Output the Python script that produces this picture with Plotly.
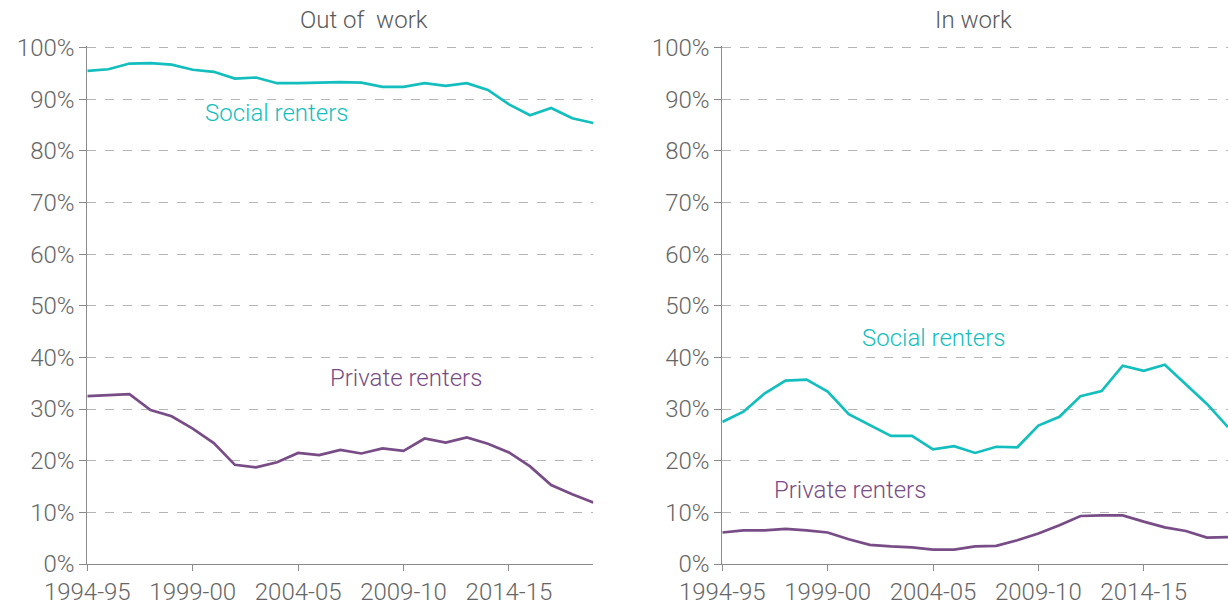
import plotly.graph_objects as go
from plotly.subplots import make_subplots

years = ["1994-95","1995-96","1996-97","1997-98","1998-99","1999-00","2000-01","2001-02",
         "2002-03","2003-04","2004-05","2005-06","2006-07","2007-08","2008-09","2009-10",
         "2010-11","2011-12","2012-13","2013-14","2014-15","2015-16","2016-17","2017-18","2018-19"]
tick_labels = ["1994-95", "1999-00", "2004-05", "2009-10", "2014-15"]

out_social = [95.5, 95.8, 96.9, 97.0, 96.7, 95.7, 95.3, 94.0, 94.2, 93.1, 93.1, 93.2, 93.3,
              93.2, 92.4, 92.4, 93.1, 92.6, 93.1, 91.8, 89.0, 86.9, 88.3, 86.3, 85.4]
out_private = [32.5, 32.7, 32.9, 29.8, 28.6, 26.2, 23.4, 19.2, 18.7, 19.7, 21.5, 21.1, 22.1,
               21.4, 22.4, 21.9, 24.3, 23.5, 24.5, 23.3, 21.6, 18.9, 15.3, 13.5, 11.9]
in_social = [27.5, 29.5, 33.0, 35.5, 35.7, 33.4, 29.0, 26.9, 24.8, 24.8, 22.2, 22.8, 21.5,
             22.7, 22.6, 26.8, 28.5, 32.5, 33.5, 38.4, 37.4, 38.6, 34.8, 31.0, 26.5]
in_private = [6.1, 6.5, 6.5, 6.8, 6.5, 6.1, 4.8, 3.7, 3.4, 3.2, 2.8, 2.8, 3.4, 3.5, 4.6,
              5.9, 7.5, 9.3, 9.4, 9.4, 8.2, 7.1, 6.4, 5.1, 5.2]

TEAL = "#14BEBE"
PURPLE = "#784C86"
FONT = "Roboto"
W, H = 1228, 605
L1, R1 = 87.3, 593.3
L2, R2 = 722.3, 1228.0
YMAX = 100.3
PX_PER_UNIT = 5.166
BOT = 564.3
TOP = BOT - YMAX * PX_PER_UNIT

idx = list(range(len(years)))
tickvals = [years.index(t) for t in tick_labels]

fig = make_subplots(rows=1, cols=2)
fig.add_trace(go.Scatter(x=idx, y=out_social, mode="lines", line=dict(color=TEAL, width=2.7),
                         name="Social renters", showlegend=False), row=1, col=1)
fig.add_trace(go.Scatter(x=idx, y=out_private, mode="lines", line=dict(color=PURPLE, width=2.7),
                         name="Private renters", showlegend=False), row=1, col=1)
fig.add_trace(go.Scatter(x=idx, y=in_social, mode="lines", line=dict(color=TEAL, width=2.7),
                         name="Social renters", showlegend=False), row=1, col=2)
fig.add_trace(go.Scatter(x=idx, y=in_private, mode="lines", line=dict(color=PURPLE, width=2.7),
                         name="Private renters", showlegend=False), row=1, col=2)

tickfont = dict(family=FONT, size=24, color="#666666", weight=300)
xcommon = dict(range=[0, len(years) - 1], tickvals=tickvals, ticktext=tick_labels,
               showgrid=False, zeroline=False, showline=True, linecolor="#8a8a8a", linewidth=1,
               ticks="outside", ticklen=6, tickcolor="#8a8a8a", tickfont=tickfont,
               automargin=False)
ycommon = dict(range=[0, YMAX], tickvals=list(range(0, 101, 10)),
               ticktext=[f"{v}%" for v in range(0, 101, 10)],
               showgrid=True, gridcolor="#b5b5b5", griddash="dash", gridwidth=1,
               zeroline=False, showline=True, linecolor="#8a8a8a", linewidth=1,
               ticks="outside", ticklen=7, tickcolor="#8a8a8a", tickfont=tickfont,
               automargin=False)

fig.update_layout(
    width=W, height=H,
    margin=dict(l=0, r=0, t=TOP, b=H - BOT, pad=0),
    paper_bgcolor="white", plot_bgcolor="white",
    xaxis=dict(domain=[L1 / W, R1 / W], **xcommon),
    xaxis2=dict(domain=[L2 / W, R2 / W], **xcommon),
    yaxis=dict(domain=[0, 1], **ycommon),
    yaxis2=dict(domain=[0, 1], **ycommon),
)

def py(ypix):
    return (BOT - ypix) / (BOT - TOP)

titlefont = dict(family=FONT, size=24, color="#5a5a5a", weight=300)
fig.add_annotation(text="Out of\u00a0 work", x=364 / W, y=py(20), xref="paper", yref="paper",
                   showarrow=False, font=titlefont, xanchor="center", yanchor="middle")
fig.add_annotation(text="In work", x=973 / W, y=py(20), xref="paper", yref="paper",
                   showarrow=False, font=titlefont, xanchor="center", yanchor="middle")

lab = dict(family=FONT, size=24, weight=300)
fig.add_annotation(text="Social renters", x=8.96, y=87.3, xref="x", yref="y", showarrow=False,
                   font=dict(color=TEAL, **lab))
fig.add_annotation(text="Private renters", x=15.1, y=36.1, xref="x", yref="y", showarrow=False,
                   font=dict(color=PURPLE, **lab))
fig.add_annotation(text="Social renters", x=10.0, y=43.8, xref="x2", yref="y2", showarrow=False,
                   font=dict(color=TEAL, **lab))
fig.add_annotation(text="Private renters", x=6.06, y=14.4, xref="x2", yref="y2", showarrow=False,
                   font=dict(color=PURPLE, **lab))

fig.write_html("out.html", config={"displayModeBar": False},
               post_script="document.body.style.margin='0';document.body.style.padding='0';")
